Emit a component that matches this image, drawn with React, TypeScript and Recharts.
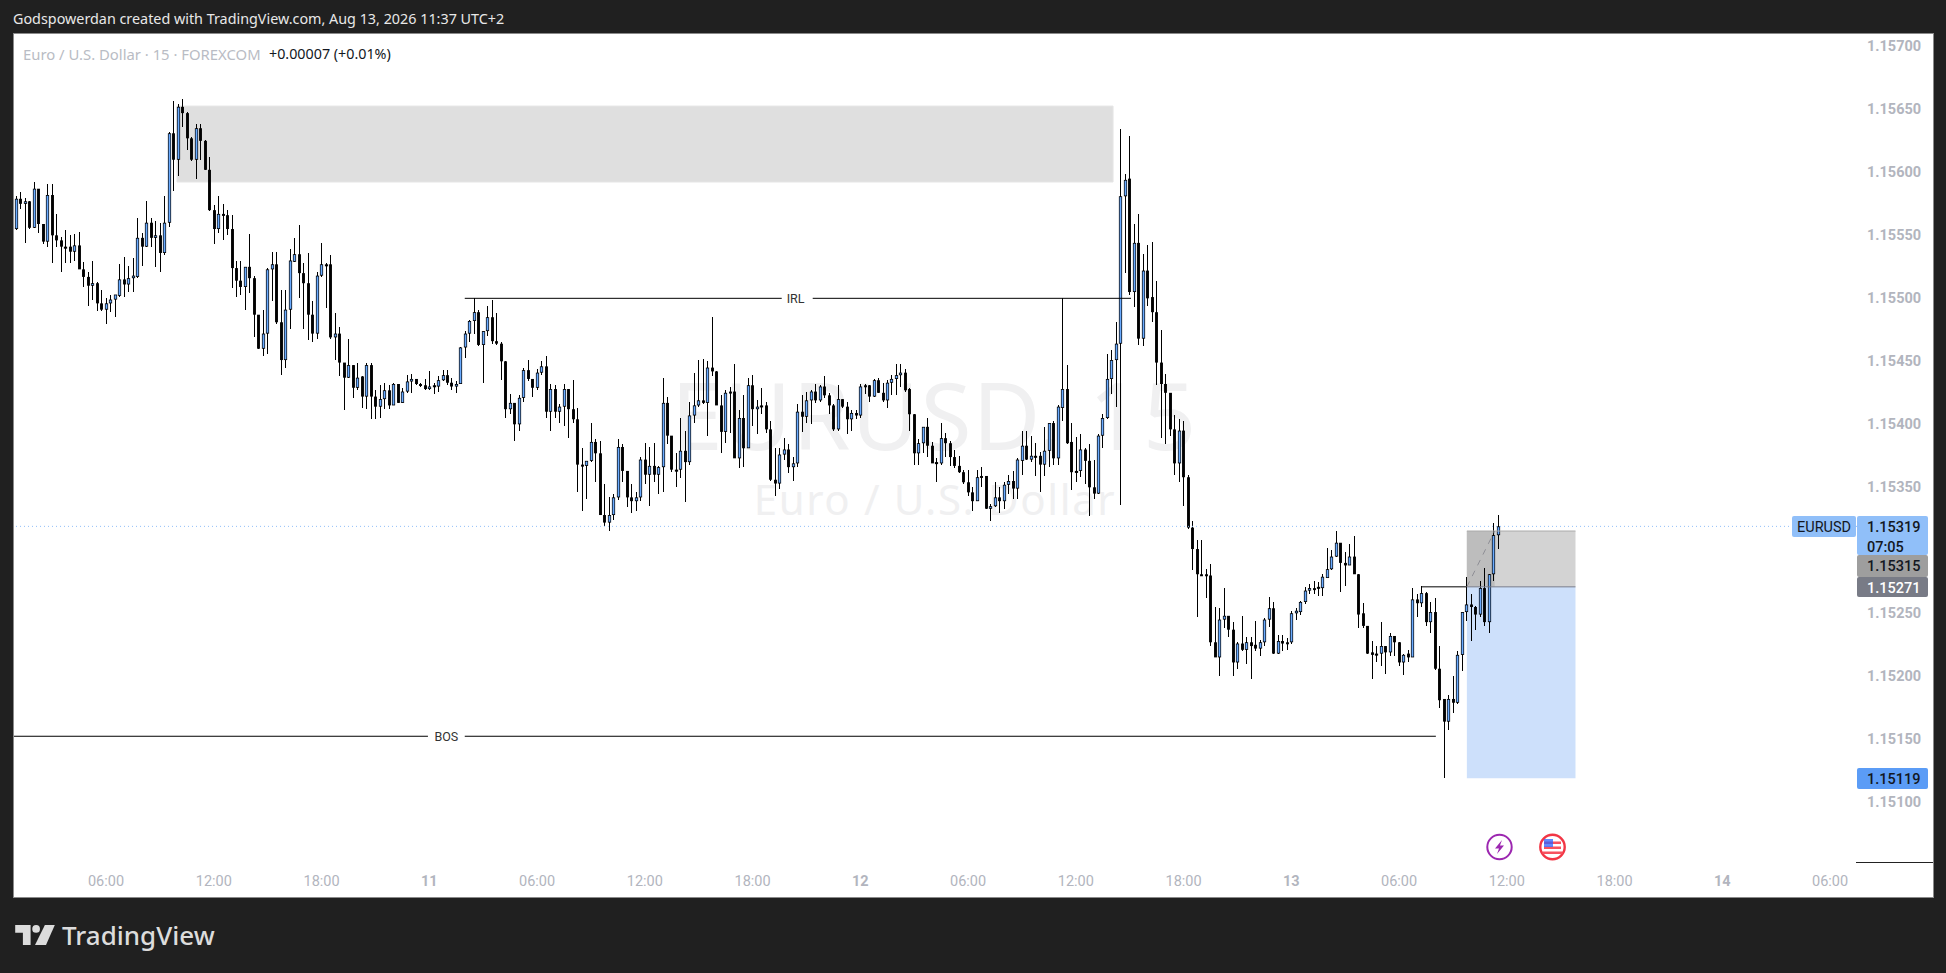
import { Bar, ComposedChart, ReferenceArea, ReferenceDot, ReferenceLine, XAxis, YAxis } from 'recharts';

// prices are kept as the last five digits: 15319 means 1.15319
const opens = [
  15555,15579,15575,15577,15556,15587,15559,15545,15582,15550,
  15546,15541,15541,15537,15542,15523,15517,15510,15512,15496,
  15491,15496,15499,15502,15515,15511,15516,15517,15548,15541,
  15560,15548,15550,15536,15560,15631,15610,15652,15647,15627,
  15610,15635,15625,15602,15570,15555,15567,15566,15555,15524,
  15514,15509,15525,15516,15487,15460,15472,15523,15527,15481,
  15451,15491,15529,15535,15520,15512,15487,15472,15518,15527,
  15527,15469,15472,15449,15437,15447,15429,15438,15422,15447,
  15422,15414,15420,15427,15415,15432,15417,15426,15434,15436,
  15432,15431,15428,15431,15430,15435,15439,15433,15430,15432,
  15461,15472,15482,15489,15463,15474,15485,15466,15464,15450,
  15412,15417,15400,15421,15443,15436,15429,15441,15446,15410,
  15428,15410,15414,15428,15412,15404,15368,15367,15371,15386,
  15377,15328,15322,15328,15342,15382,15363,15342,15339,15342,
  15372,15360,15367,15360,15366,15417,15391,15364,15364,15379,
  15370,15407,15415,15419,15417,15445,15442,15415,15394,15426,
  15426,15373,15405,15381,15431,15412,15415,15415,15396,15356,
  15353,15376,15380,15366,15369,15410,15406,15419,15426,15419,
  15430,15423,15415,15396,15420,15414,15404,15409,15407,15431,
  15431,15422,15435,15425,15419,15433,15436,15439,15441,15428,
  15408,15377,15385,15398,15383,15370,15369,15389,15385,15374,
  15367,15362,15354,15346,15339,15359,15359,15333,15335,15342,
  15339,15352,15355,15349,15371,15383,15372,15375,15375,15368,
  15379,15401,15373,15413,15428,15386,15362,15363,15380,15371,
  15350,15345,15391,15405,15436,15451,15464,15581,15595,15505,
  15544,15468,15522,15501,15489,15449,15432,15425,15396,15369,
  15395,15358,15318,15301,15281,15281,15280,15227,15215,15245,
  15248,15237,15211,15226,15221,15227,15225,15222,15227,15245,
  15254,15218,15228,15227,15227,15250,15251,15259,15268,15270,
  15271,15270,15278,15285,15295,15306,15290,15288,15295,15281,
  15250,15240,15219,15218,15218,15224,15219,15232,15227,15211,
  15218,15215,15261,15258,15266,15243,15251,15206,15182,15164,
  15182,15179,15217,15251,15257,15255,15249,15270,15243,15281,
  15312,
];
const highs = [
  15581,15584,15580,15577,15592,15587,15559,15591,15591,15567,
  15549,15554,15550,15551,15553,15529,15521,15530,15513,15507,
  15500,15503,15503,15527,15533,15526,15532,15564,15552,15577,
  15564,15561,15560,15581,15632,15657,15654,15658,15648,15628,
  15638,15638,15626,15612,15574,15581,15575,15570,15566,15530,
  15530,15525,15551,15518,15487,15491,15524,15537,15537,15507,
  15507,15539,15548,15558,15528,15536,15498,15521,15544,15528,
  15534,15488,15477,15449,15468,15447,15449,15438,15449,15449,
  15427,15431,15433,15431,15433,15432,15429,15439,15440,15436,
  15433,15436,15442,15433,15438,15443,15443,15437,15434,15461,
  15474,15483,15500,15491,15474,15494,15499,15488,15465,15450,
  15424,15417,15423,15445,15451,15436,15444,15450,15454,15432,
  15431,15416,15432,15428,15435,15413,15381,15371,15401,15388,
  15387,15353,15342,15345,15388,15384,15363,15353,15346,15374,
  15385,15382,15385,15367,15437,15422,15391,15377,15405,15395,
  15418,15441,15451,15452,15450,15485,15442,15423,15427,15430,
  15448,15411,15423,15437,15439,15419,15429,15418,15403,15381,
  15381,15389,15384,15374,15416,15423,15426,15427,15432,15431,
  15438,15425,15416,15431,15420,15418,15411,15411,15432,15432,
  15431,15436,15437,15433,15435,15439,15448,15448,15444,15429,
  15408,15388,15398,15405,15386,15373,15401,15393,15387,15380,
  15375,15364,15364,15350,15364,15366,15359,15337,15354,15350,
  15354,15360,15363,15373,15395,15395,15391,15385,15378,15398,
  15401,15403,15415,15500,15447,15401,15390,15392,15381,15384,
  15372,15392,15408,15456,15459,15481,15634,15599,15629,15559,
  15567,15535,15542,15545,15514,15475,15440,15425,15407,15404,
  15403,15360,15323,15308,15308,15285,15289,15255,15254,15270,
  15248,15243,15227,15248,15231,15231,15244,15229,15246,15263,
  15259,15233,15233,15230,15252,15254,15260,15271,15273,15276,
  15275,15281,15302,15300,15315,15306,15299,15305,15311,15281,
  15258,15240,15228,15224,15243,15224,15234,15232,15227,15218,
  15221,15270,15265,15272,15267,15259,15262,15224,15182,15185,
  15200,15220,15251,15279,15265,15256,15276,15286,15281,15322,
  15328,
];
const lows = [
  15554,15571,15544,15555,15556,15552,15543,15541,15528,15541,
  15521,15528,15528,15530,15523,15509,15494,15499,15490,15490,
  15480,15489,15485,15501,15501,15505,15505,15516,15526,15541,
  15541,15525,15521,15534,15557,15585,15597,15636,15618,15609,
  15595,15610,15602,15569,15543,15552,15546,15550,15508,15501,
  15503,15491,15504,15469,15460,15454,15456,15498,15480,15439,
  15445,15476,15529,15500,15476,15467,15465,15468,15517,15492,
  15468,15451,15438,15411,15437,15421,15427,15413,15412,15404,
  15404,15405,15412,15412,15415,15417,15417,15425,15425,15431,
  15430,15427,15427,15424,15426,15434,15431,15427,15425,15432,
  15453,15465,15472,15462,15433,15470,15464,15463,15435,15405,
  15408,15387,15395,15418,15434,15422,15427,15439,15405,15395,
  15405,15401,15399,15389,15401,15346,15331,15341,15370,15354,
  15328,15319,15315,15324,15340,15354,15334,15330,15331,15339,
  15353,15335,15354,15345,15346,15384,15362,15350,15357,15338,
  15368,15401,15414,15416,15391,15438,15415,15377,15385,15393,
  15373,15365,15366,15381,15399,15392,15408,15393,15355,15343,
  15349,15372,15361,15355,15366,15394,15401,15400,15417,15418,
  15421,15408,15395,15395,15413,15392,15395,15404,15405,15424,
  15418,15422,15425,15418,15413,15423,15423,15430,15426,15395,
  15368,15368,15377,15374,15369,15354,15368,15374,15367,15365,
  15361,15353,15343,15331,15339,15350,15333,15323,15334,15330,
  15333,15345,15341,15341,15360,15372,15370,15359,15346,15359,
  15366,15368,15368,15403,15384,15348,15354,15358,15353,15327,
  15341,15345,15381,15404,15424,15414,15336,15520,15503,15493,
  15463,15462,15494,15481,15431,15389,15384,15391,15360,15354,
  15335,15317,15284,15247,15280,15262,15224,15215,15200,15238,
  15231,15200,15206,15220,15210,15198,15220,15216,15224,15239,
  15218,15218,15220,15221,15226,15245,15249,15257,15265,15265,
  15264,15264,15278,15284,15295,15267,15272,15288,15281,15238,
  15238,15218,15198,15211,15208,15202,15216,15216,15208,15201,
  15211,15215,15247,15255,15240,15234,15205,15175,15119,15157,
  15171,15178,15204,15244,15228,15237,15247,15240,15234,15276,
  15301,
];
const closes = [
  15579,15575,15577,15556,15587,15559,15545,15582,15550,15546,
  15541,15541,15537,15542,15523,15517,15510,15512,15496,15491,
  15496,15499,15503,15515,15511,15516,15518,15548,15541,15560,
  15548,15550,15536,15560,15631,15610,15652,15647,15627,15610,
  15635,15625,15602,15570,15555,15567,15566,15555,15524,15514,
  15509,15525,15516,15487,15460,15472,15523,15527,15481,15451,
  15491,15530,15535,15520,15512,15487,15472,15518,15527,15527,
  15469,15472,15449,15437,15447,15429,15437,15422,15447,15422,
  15414,15420,15427,15415,15432,15417,15426,15434,15436,15432,
  15431,15428,15430,15431,15435,15439,15433,15430,15432,15461,
  15472,15482,15489,15463,15474,15485,15466,15464,15450,15412,
  15417,15400,15421,15443,15436,15429,15441,15446,15410,15428,
  15410,15414,15428,15412,15404,15368,15367,15371,15386,15377,
  15328,15322,15328,15342,15382,15363,15342,15339,15342,15372,
  15360,15367,15360,15366,15417,15391,15364,15364,15379,15370,
  15407,15415,15419,15417,15445,15442,15415,15394,15425,15425,
  15373,15405,15381,15431,15412,15414,15415,15396,15356,15353,
  15376,15380,15366,15369,15410,15406,15419,15426,15419,15430,
  15423,15415,15396,15420,15414,15404,15409,15407,15430,15430,
  15422,15435,15425,15419,15433,15436,15439,15441,15427,15408,
  15377,15385,15398,15383,15369,15370,15389,15385,15374,15367,
  15362,15354,15346,15339,15358,15358,15333,15335,15342,15339,
  15352,15355,15349,15372,15383,15372,15375,15375,15368,15379,
  15401,15373,15414,15428,15385,15362,15363,15380,15371,15350,
  15345,15391,15405,15436,15451,15464,15581,15594,15505,15544,
  15468,15522,15500,15489,15449,15432,15425,15396,15369,15395,
  15358,15318,15301,15281,15280,15280,15227,15215,15245,15248,
  15237,15211,15226,15221,15227,15224,15222,15227,15245,15254,
  15218,15228,15226,15226,15250,15252,15259,15268,15270,15269,
  15271,15279,15285,15295,15306,15290,15288,15295,15281,15249,
  15240,15218,15217,15218,15224,15219,15232,15227,15211,15217,
  15215,15261,15258,15266,15243,15251,15206,15181,15164,15182,
  15179,15217,15251,15257,15255,15249,15270,15243,15281,15312,
  15319,
];

const timeTicks = [20, 44, 68, 92, 116, 140, 164, 188, 212, 236, 260, 284, 308, 332, 356, 380, 404];
const timeLabels = ['06:00', '12:00', '18:00', '11', '06:00', '12:00', '18:00', '12', '06:00', '12:00', '18:00', '13', '06:00', '12:00', '18:00', '14', '06:00'];
const priceTicks = [15100, 15150, 15200, 15250, 15350, 15400, 15450, 15500, 15550, 15600, 15650, 15700];

const candles = opens.map((open, i) => ({
  i,
  open,
  high: highs[i],
  low: lows[i],
  close: closes[i],
  range: [lows[i], highs[i]],
}));

const FONT = 'Roboto, "Noto Sans", sans-serif';

function Candle(props: any) {
  const { x, y, width, height, payload } = props;
  const cx = Math.round(x + width / 2);
  const perPoint = height / (payload.high - payload.low);
  const top = y + (payload.high - Math.max(payload.open, payload.close)) * perPoint;
  const bottom = y + (payload.high - Math.min(payload.open, payload.close)) * perPoint;
  const up = payload.close >= payload.open;
  const outer = up ? 3.2 : 2.9;
  return (
    <g>
      <rect x={cx} y={y} width={1} height={height} fill="#000" shapeRendering="crispEdges" />
      <rect x={cx + 0.5 - outer / 2} y={top} width={outer} height={Math.max(bottom - top, 2)} fill="#000" />
      {up && bottom - top > 2 && <rect x={cx + 0.5 - 0.9} y={top + 0.8} width={1.8} height={bottom - top - 1.6} fill="#6aabff" />}
    </g>
  );
}

function TimeTick(props: any) {
  const { x, y, index } = props;
  const label = timeLabels[index];
  const isDay = label.length < 3;
  return (
    <text x={x} y={y} dy={12} textAnchor="middle" fontFamily={FONT} fontSize={14.5} fontWeight={isDay ? 700 : 400} fill="#b2b5be">
      {label}
    </text>
  );
}

function PriceTag({ top, height, bg, color, children, left = 1857, width = 71, pad = 10, weight = 500 }: any) {
  return (
    <div
      style={{
        position: 'absolute', left, top, width, height, background: bg, color, fontFamily: FONT, fontSize: 14.5, fontWeight: weight,
        lineHeight: '20px', paddingTop: 1.5, paddingLeft: pad, boxSizing: 'border-box', borderRadius: 2, whiteSpace: 'nowrap',
      }}
    >
      {children}
    </div>
  );
}

export default function App() {
  return (
    <div style={{ position: 'absolute', left: 0, top: 0, width: 1946, height: 973, background: '#202020', overflow: 'hidden' }}>
      <div style={{ position: 'absolute', left: 13, top: 10, color: '#e8e8e8', fontFamily: '"Noto Sans", sans-serif', fontSize: 14.35, lineHeight: '18px', whiteSpace: 'nowrap' }}>
        Godspowerdan created with TradingView.com, Aug 13, 2026 11:37 UTC+2
      </div>
      <div style={{ position: 'absolute', left: 13, top: 33, width: 1919, height: 863, background: '#fff', border: '1px solid #8a8a8a' }} />

      {/* watermark sits under the transparent chart */}
      <div style={{ position: 'absolute', left: 634, top: 366, width: 600, textAlign: 'center', color: '#f0f0f1', fontFamily: '"Noto Sans", sans-serif', fontSize: 93, letterSpacing: 1, lineHeight: '96px', whiteSpace: 'nowrap' }}>
        EURUSD, 15
      </div>
      <div style={{ position: 'absolute', left: 735, top: 474, width: 400, textAlign: 'center', color: '#f0f0f1', fontFamily: '"Noto Sans", sans-serif', fontSize: 42, letterSpacing: 1.6, lineHeight: '50px', whiteSpace: 'nowrap' }}>
        Euro / U.S. Dollar
      </div>

      <div style={{ position: 'absolute', left: 0, top: 0 }}>
        <ComposedChart width={1946} height={973} data={candles} margin={{ top: 34, right: 13, bottom: 76, left: 14 }}>
          <XAxis
            dataKey="i"
            type="number"
            domain={[-0.5, 410]}
            allowDataOverflow
            ticks={timeTicks}
            tick={<TimeTick />}
            interval={0}
            height={35}
            axisLine={false}
            tickLine={false}
            tickSize={0}
            tickMargin={12}
          />
          <YAxis
            orientation="right"
            type="number"
            domain={[15052.6, 15709.8]}
            allowDataOverflow
            ticks={priceTicks}
            interval={0}
            width={76}
            axisLine={false}
            tickLine={false}
            tickSize={0}
            tickMargin={10}
            tick={{ fontSize: 14.5, fontWeight: 700, fontFamily: FONT, fill: '#b2b5be' }}
            tickFormatter={(v: number) => `1.${v}`}
          />

          <ReferenceArea x1={35.8} x2={244.3} y1={15592.3} y2={15652.6} fill="#dfdfdf" fillOpacity={1} stroke="#e6e6e6" />
          <ReferenceArea x1={323.1} x2={347.3} y1={15271} y2={15315.3} fill="#d3d3d3" fillOpacity={1} stroke="none" />
          <ReferenceArea x1={323.1} x2={329.3} y1={15271} y2={15315.3} fill="#bdbdbd" fillOpacity={1} stroke="none" />
          <ReferenceArea x1={323.1} x2={347.3} y1={15119} y2={15271} fill="#cde0fb" fillOpacity={1} stroke="none" />

          <ReferenceLine y={15319} stroke="#90bff9" strokeDasharray="1 3" segment={[{ x: -0.5, y: 15319 }, { x: 396.7, y: 15319 }]} />
          <ReferenceLine segment={[{ x: 99.9, y: 15500 }, { x: 170.5, y: 15500 }]} stroke="#000" />
          <ReferenceLine segment={[{ x: 177.4, y: 15500 }, { x: 248.3, y: 15500 }]} stroke="#000" />
          <ReferenceLine segment={[{ x: -0.5, y: 15152.4 }, { x: 91.7, y: 15152.4 }]} stroke="#000" />
          <ReferenceLine segment={[{ x: 99.9, y: 15152.4 }, { x: 316.2, y: 15152.4 }]} stroke="#000" />
          <ReferenceLine segment={[{ x: 313, y: 15271 }, { x: 323.1, y: 15271 }]} stroke="#000" />
          <ReferenceLine segment={[{ x: 323.1, y: 15271 }, { x: 347.3, y: 15271 }]} stroke="#787b86" />
          <ReferenceLine segment={[{ x: 323.1, y: 15315.3 }, { x: 347.3, y: 15315.3 }]} stroke="#aaaaaa" />
          <ReferenceLine segment={[{ x: 323.1, y: 15271 }, { x: 329.3, y: 15315.3 }]} stroke="#8f8f96" strokeDasharray="6 6" />
          <ReferenceDot x={173.6} y={15500} r={0} stroke="none" label={{ value: 'IRL', position: 'center', fontSize: 12.5, fontFamily: FONT, fill: '#333' }} />
          <ReferenceDot x={95.8} y={15152.4} r={0} stroke="none" label={{ value: 'BOS', position: 'center', fontSize: 12.5, fontFamily: FONT, fill: '#333' }} />

          <Bar dataKey="range" barSize={4} shape={<Candle />} isAnimationActive={false} />
        </ComposedChart>
      </div>

      {/* legend line */}
      <div style={{ position: 'absolute', left: 23, top: 44, fontFamily: '"Noto Sans", sans-serif', fontSize: 14.85, lineHeight: '20px', whiteSpace: 'nowrap', color: '#b9bcc4' }}>
        Euro / U.S. Dollar · 15 · FOREXCOM
        <span style={{ position: 'absolute', left: 246, fontSize: 14.3, color: '#131722' }}>+0.00007 (+0.01%)</span>
      </div>

      {/* price axis tags */}
      <div style={{ position: 'absolute', left: 1856, top: 862, width: 77, height: 1, background: '#222' }} />
      <PriceTag left={1792} width={64} top={516} height={21} bg="#90bff9" color="#131722" pad={5} weight={400}>EURUSD</PriceTag>
      <PriceTag top={516} height={39} bg="#90bff9" color="#131722">1.15319<br />07:05</PriceTag>
      <PriceTag top={555} height={22} bg="#9e9e9e" color="#131722">1.15315</PriceTag>
      <PriceTag top={577} height={20} bg="#787b86" color="#fff">1.15271</PriceTag>
      <PriceTag top={768} height={21} bg="#5b9cf6" color="#131722">1.15119</PriceTag>

      {/* event markers */}
      <svg style={{ position: 'absolute', left: 1484, top: 832 }} width={84} height={30}>
        <circle cx={15.5} cy={15} r={12.2} fill="#fff" stroke="#9c27b0" strokeWidth={2} />
        <path d="M18 8 L11 16.5 L15 16.5 L13 22 L20 13.5 L16 13.5 Z" fill="#9c27b0" />
        <circle cx={68.5} cy={15} r={12.2} fill="#fff" stroke="#f23645" strokeWidth={2.4} />
        <path d="M60 9.5 H77 V12 H60 Z M60 14.5 H77 V17 H60 Z M58.5 19.5 H78.5 V22 H58.5 Z" fill="#f7525f" />
        <rect x={60} y={7} width={9} height={8} fill="#2962ff" fillOpacity={0.75} />
      </svg>

      {/* logo */}
      <svg style={{ position: 'absolute', left: 15, top: 924 }} width={40} height={22} viewBox="0 0 36 20">
        <path d="M0 1 H14 V19 H7 V8 H0 Z" fill="#dcdcdc" />
        <circle cx={19} cy={4.5} r={3.5} fill="#dcdcdc" />
        <path d="M27 1 H36 L28 19 H18 Z" fill="#dcdcdc" />
      </svg>
      <div style={{ position: 'absolute', left: 62, top: 917, color: '#dcdcdc', fontFamily: '"Noto Sans", sans-serif', fontSize: 26, fontWeight: 500, lineHeight: '36px', whiteSpace: 'nowrap' }}>
        TradingView
      </div>
    </div>
  );
}
